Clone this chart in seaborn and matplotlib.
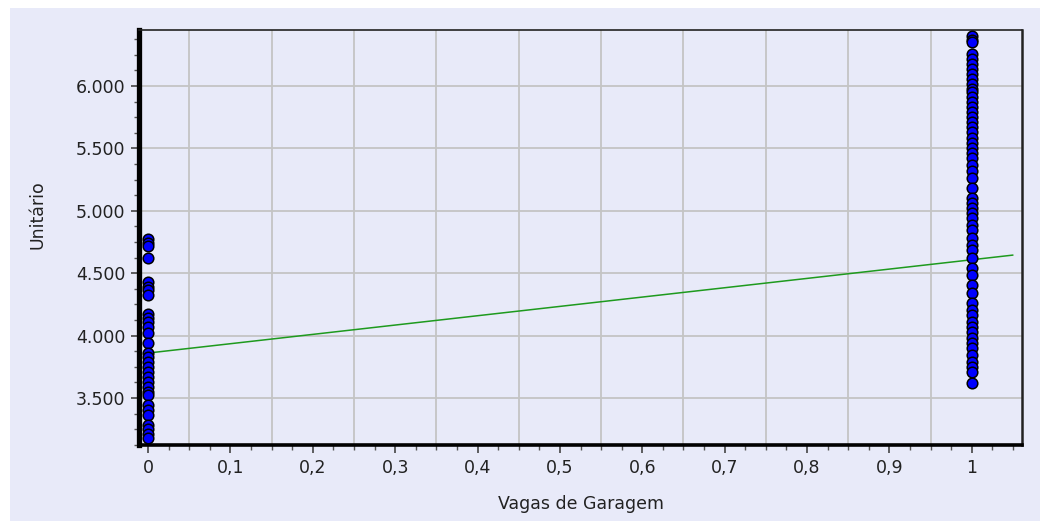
import matplotlib
matplotlib.use("Agg")
import matplotlib.pyplot as plt
import matplotlib.patches as mpatches
from matplotlib.ticker import FixedLocator, MultipleLocator, FixedFormatter
import seaborn as sns
import pandas as pd
import numpy as np

# ---- data ----
vagas_0 = [4770, 4740, 4715, 4620, 4430, 4390, 4365, 4325, 4170, 4140, 4105,
           4070, 4020, 3940, 3860, 3830, 3790, 3750, 3710, 3670, 3630, 3590,
           3550, 3525, 3445, 3405, 3365, 3285, 3255, 3215, 3180]
vagas_1 = [6400, 6370, 6355, 6260, 6220, 6180, 6140, 6100, 6060, 6020, 5980,
           5955, 5915, 5875, 5835, 5795, 5755, 5715, 5675, 5635, 5580, 5540,
           5500, 5460, 5420, 5365, 5315, 5260, 5180, 5100, 5060, 5020, 4980,
           4940, 4885, 4845, 4780, 4725, 4685, 4620, 4540, 4485, 4405, 4340,
           4260, 4205, 4165, 4110, 4070, 4030, 3980, 3940, 3900, 3845, 3790,
           3750, 3710, 3620]
line_x = [0.0, 1.05]
line_y = [3860, 4645]
x_ticks = [0, 0.1, 0.2, 0.3, 0.4, 0.5, 0.6, 0.7, 0.8, 0.9, 1.0]
x_tick_labels = ["0", "0,1", "0,2", "0,3", "0,4", "0,5", "0,6", "0,7", "0,8", "0,9", "1"]
y_ticks = [3500, 4000, 4500, 5000, 5500, 6000]
y_tick_labels = ["3.500", "4.000", "4.500", "5.000", "5.500", "6.000"]
x_label = "Vagas de Garagem"
y_label = "Unitário"

df = pd.DataFrame({
    "Vagas": [0] * len(vagas_0) + [1] * len(vagas_1),
    "Unitario": vagas_0 + vagas_1,
})
line_df = pd.DataFrame({"x": line_x, "y": line_y})

# ---- style ----
sns.set_theme(style="white")
plt.rcParams["font.family"] = ["DejaVu Sans"]
bg = "#E8EAF9"

fig = plt.figure(figsize=(10.4, 5.23), dpi=100, facecolor="white")
panel = mpatches.Rectangle((10 / 1040, 2 / 523), 1 - 10 / 1040, 513 / 523,
                           transform=fig.transFigure, facecolor=bg,
                           edgecolor="none", zorder=-10)
fig.add_artist(panel)
ax = fig.add_axes([139 / 1040, 1 - 445 / 523, (1022 - 139) / 1040, (445 - 30) / 523])
ax.set_zorder(1)
ax.set_facecolor(bg)

# grid
ax.set_axisbelow(True)
for gx in np.arange(0.05, 1.0, 0.1):
    ax.axvline(gx, color="#C4C4C4", lw=1.3, zorder=0)
for gy in y_ticks:
    ax.axhline(gy, color="#C4C4C4", lw=1.3, zorder=0)

sns.lineplot(data=line_df, x="x", y="y", ax=ax, color="#1E9A1E", lw=1.1, zorder=2)
sns.scatterplot(data=df, x="Vagas", y="Unitario", ax=ax, color="#0000FF",
                edgecolor="black", linewidth=1.1, s=58, marker="o", zorder=3,
                clip_on=False)

ax.set_xlim(-0.011, 1.061)
ax.set_ylim(3123, 6449)

ax.xaxis.set_major_locator(FixedLocator(x_ticks))
ax.xaxis.set_major_formatter(FixedFormatter(x_tick_labels))
ax.xaxis.set_minor_locator(MultipleLocator(0.025))
ax.yaxis.set_major_locator(FixedLocator(y_ticks))
ax.yaxis.set_major_formatter(FixedFormatter(y_tick_labels))
ax.yaxis.set_minor_locator(MultipleLocator(125))

ax.tick_params(axis="both", which="major", length=6, width=1.2, color="#444444",
               labelsize=12.5, labelcolor="#222222", pad=4, direction="out",
               bottom=True, left=True)
ax.tick_params(axis="both", which="minor", length=3.5, width=1.0, color="#555555",
               direction="out", bottom=True, left=True)

ax.set_xlabel(x_label, fontsize=12.5, color="#222222", labelpad=4)
ax.set_ylabel(y_label, fontsize=12.5, color="#222222")
ax.yaxis.set_label_coords(-0.105, 0.555)
ax.xaxis.set_label_coords(0.5, -0.12)

for side, lw, col in [("left", 3.8, "black"), ("bottom", 2.6, "black"),
                      ("top", 1.2, "#222222"), ("right", 1.8, "#222222")]:
    ax.spines[side].set_visible(True)
    ax.spines[side].set_linewidth(lw)
    ax.spines[side].set_color(col)

fig.savefig("out.png", dpi=100, facecolor="white")
